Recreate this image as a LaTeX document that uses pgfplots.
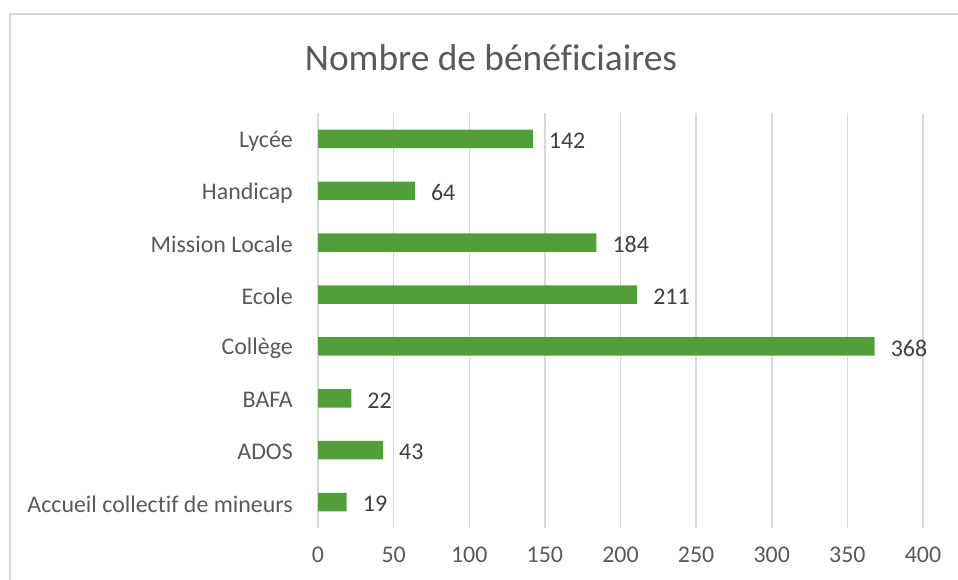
\documentclass[border=0pt]{standalone}
\usepackage{fontspec}
\setmainfont{Carlito}[Ligatures=CommonOff]
\usepackage{pgfplots}
\pgfplotsset{compat=1.18}
\definecolor{bargreen}{HTML}{529E3B}
\definecolor{gridgray}{HTML}{D9D9D9}
\definecolor{txtgray}{HTML}{595959}
\definecolor{lblgray}{HTML}{404040}
\begin{document}
\begin{tikzpicture}
\begin{scope}[x=1bp,y=1bp]
\useasboundingbox (0,0) rectangle (958,580);
\draw[line width=1.5bp, color=gridgray] (10,0) -- (10,566) -- (958,566);
\node[font=\fontsize{37.5}{44}\selectfont, text=txtgray] at (491,522) {Nombre de bénéficiaires};
\end{scope}
\begin{axis}[
  at={(318bp,52bp)}, anchor=south west,
  scale only axis, width=605bp, height=415bp,
  xbar, bar width=18.5bp,
  xmin=0, xmax=400, ymin=-0.5, ymax=7.5,
  xtick={0,50,...,400},
  ytick={0,...,7},
  yticklabels={Accueil collectif de mineurs,ADOS,BAFA,Collège,Ecole,Mission Locale,Handicap,Lycée},
  xmajorgrids, grid style={gridgray, line width=1.5bp},
  axis line style={draw=none},
  major tick length=0pt,
  /pgf/number format/assume math mode=true,
  xticklabel style={font=\fontsize{24}{28}\selectfont, text=txtgray, inner sep=0pt, yshift=-19bp},
  yticklabel style={font=\fontsize{24}{28}\selectfont, text=txtgray, inner sep=0pt, xshift=-25bp, yshift=-2bp},
  nodes near coords,
  every node near coord/.append style={font=\fontsize{24}{28}\selectfont, text=lblgray, anchor=west, inner sep=0pt, xshift=16bp, yshift=-2bp},
]
\addplot[fill=bargreen, draw=none] coordinates {
(19,0) (43,1) (22,2) (368,3) (211,4) (184,5) (64,6) (142,7)
};
\end{axis}
\end{tikzpicture}
\end{document}
